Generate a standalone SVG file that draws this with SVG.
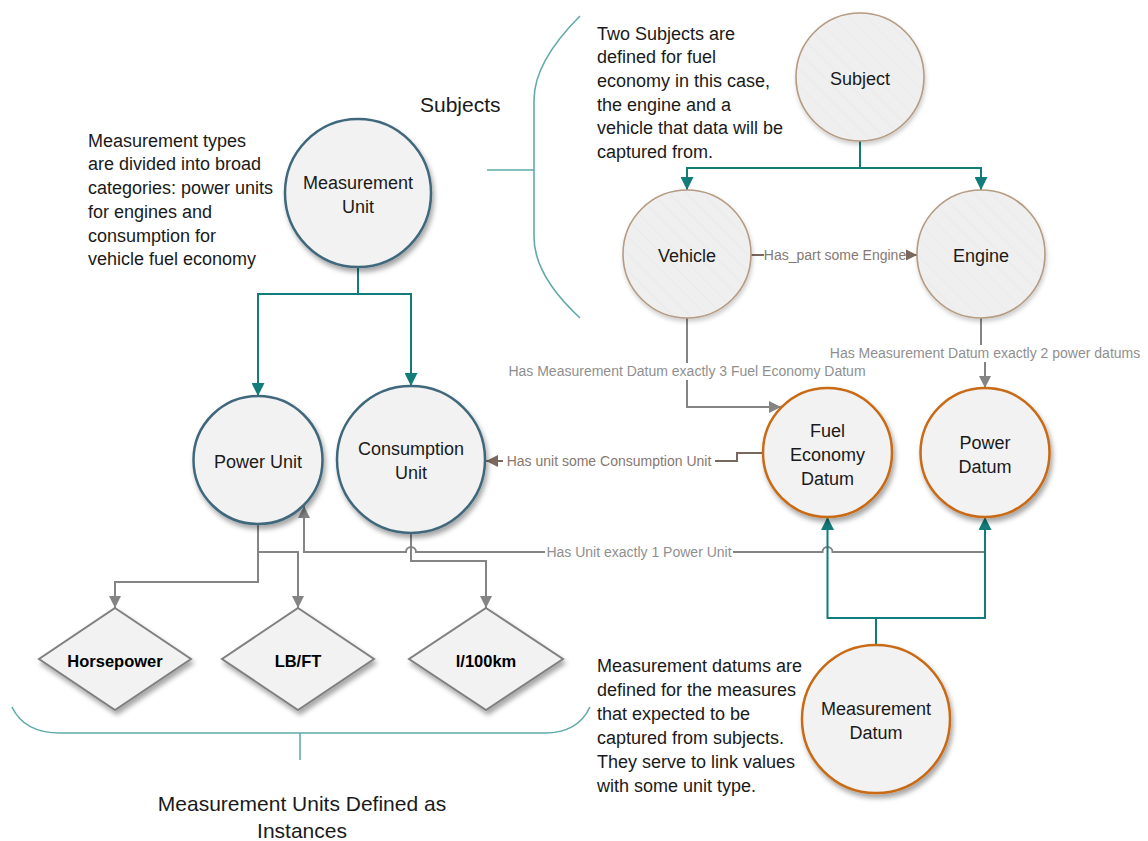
<svg xmlns="http://www.w3.org/2000/svg" width="1148" height="841" viewBox="0 0 1148 841">
<style>
text{font-family:"Liberation Sans",Arial,sans-serif;fill:#1a1a1a}
.desc{font-size:18px}
.title{font-size:21px}
.nl{font-size:18px;text-anchor:middle}
.dl{font-size:16.5px;font-weight:bold;text-anchor:middle;fill:#000}
.cl{font-size:14px;text-anchor:middle;fill:#8f8f8f}
.bl{font-size:14px;text-anchor:middle;fill:#877870}
.bg{fill:#fff}
.blue{fill:#f2f2f2;stroke:#41687c;stroke-width:2.5}
.orange{fill:#f2f2f2;stroke:#c86a14;stroke-width:2.5}
.tan{fill:url(#hatch);stroke:#b49b82;stroke-width:1.6}
.dia{fill:#f2f2f2;stroke:#808080;stroke-width:2}
.teal{fill:none;stroke:#127c7a;stroke-width:2}
.gray{fill:none;stroke:#848484;stroke-width:2}
.brown{fill:none;stroke:#7a675d;stroke-width:2}
.brace{fill:none;stroke:#5faaa9;stroke-width:1.6}
</style>
<defs>
<filter id="sh" x="-20%" y="-20%" width="150%" height="150%">
<feDropShadow dx="2" dy="4" stdDeviation="2.5" flood-color="#000" flood-opacity="0.35"/>
</filter>
<filter id="shl" x="-20%" y="-20%" width="150%" height="150%">
<feDropShadow dx="1" dy="3" stdDeviation="2" flood-color="#000" flood-opacity="0.2"/>
</filter>
<pattern id="hatch" patternUnits="userSpaceOnUse" width="12" height="12" patternTransform="rotate(-45)">
<rect width="12" height="12" fill="#efefef"/>
<line x1="0" y1="0" x2="0" y2="12" stroke="#e6e6e6" stroke-width="1"/>
</pattern>
<marker id="aT" viewBox="0 0 12 12" refX="12" refY="6" markerWidth="13" markerHeight="13" orient="auto" markerUnits="userSpaceOnUse"><path d="M0,0 L12,6 L0,12 z" fill="#127c7a"/></marker>
<marker id="aG" viewBox="0 0 12 12" refX="12" refY="6" markerWidth="12" markerHeight="12" orient="auto" markerUnits="userSpaceOnUse"><path d="M0,0 L12,6 L0,12 z" fill="#848484"/></marker>
<marker id="aB" viewBox="0 0 12 12" refX="12" refY="6" markerWidth="12" markerHeight="12" orient="auto" markerUnits="userSpaceOnUse"><path d="M0,0 L12,6 L0,12 z" fill="#7a675d"/></marker>
</defs>
<rect width="1148" height="841" fill="#fff"/>

<g id="braces">
<path class="brace" d="M580,16 C552,44 534,72 534,100 V237 C534,264 552,292 580,318"/>
<path class="brace" d="M487,170 H534"/>
<path class="brace" d="M12,707 C20,724 36,733 60,733 H545 C568,733 582,724 590,707"/>
<path class="brace" d="M300,733 V760"/>
</g>

<g id="connectors">
<path class="teal" d="M358,267 V294 H258 V396" marker-end="url(#aT)"/>
<path class="teal" d="M358,294 H411 V386" marker-end="url(#aT)"/>
<path class="teal" d="M860,141 V168 H687 V190" marker-end="url(#aT)"/>
<path class="teal" d="M860,168 H981 V190" marker-end="url(#aT)"/>
<path class="gray" d="M258,524 V582 H115 V608" marker-end="url(#aG)"/>
<path class="gray" d="M258,552 H298 V608" marker-end="url(#aG)"/>
<path class="gray" d="M411,533 V561 H486 V608" marker-end="url(#aG)"/>
<path class="gray" d="M985,517 V552 H832.5 a5,5 0 0 0 -10,0 H416 a5,5 0 0 0 -10,0 H304 V506" marker-end="url(#aG)"/>
<path class="gray" d="M687,318 V407 H781" marker-end="url(#aG)"/>
<path class="gray" d="M981,318 V352 H985 V388" marker-end="url(#aG)"/>
<path class="brown" d="M751,255 H917" marker-end="url(#aB)"/>
<path class="brown" d="M763,453 H737 V461 H486" marker-end="url(#aB)"/>
<path class="teal" d="M876,645 V618 H827.5 V517" marker-end="url(#aT)"/>
<path class="teal" d="M876,618 H985 V517" marker-end="url(#aT)"/>
<rect class="bg" x="764" y="247" width="142" height="16"/>
<text class="bl" x="835" y="260">Has_part some Engine</text>
<rect class="bg" x="505" y="363" width="364" height="17"/>
<text class="cl" x="687" y="376">Has Measurement Datum exactly 3 Fuel Economy Datum</text>
<rect class="bg" x="828" y="345" width="316" height="17"/>
<text class="cl" x="985" y="358">Has Measurement Datum exactly 2 power datums</text>
<rect class="bg" x="503" y="453" width="212" height="17"/>
<text class="bl" x="609" y="466">Has unit some Consumption Unit</text>
<rect class="bg" x="545" y="544" width="188" height="17"/>
<text class="cl" x="639" y="557">Has Unit exactly 1 Power Unit</text>
</g>

<g id="measurement-unit">
<ellipse class="blue" cx="358" cy="193" rx="73" ry="74" filter="url(#sh)"/>
<text class="nl" x="358" y="189">Measurement</text>
<text class="nl" x="358" y="212.5">Unit</text>
</g>
<g id="power-unit">
<ellipse class="blue" cx="258" cy="460" rx="64.5" ry="64" filter="url(#sh)"/>
<text class="nl" x="258" y="467.5">Power Unit</text>
</g>
<g id="consumption-unit">
<ellipse class="blue" cx="411" cy="459.5" rx="74" ry="73.5" filter="url(#sh)"/>
<text class="nl" x="411" y="455">Consumption</text>
<text class="nl" x="411" y="479">Unit</text>
</g>
<g id="subject">
<circle class="tan" cx="860" cy="77" r="64" filter="url(#shl)"/>
<text class="nl" x="860" y="84.5">Subject</text>
</g>
<g id="vehicle">
<circle class="tan" cx="687" cy="254" r="64" filter="url(#shl)"/>
<text class="nl" x="687" y="261.5">Vehicle</text>
</g>
<g id="engine">
<circle class="tan" cx="981" cy="254" r="64" filter="url(#shl)"/>
<text class="nl" x="981" y="261.5">Engine</text>
</g>
<g id="fuel-economy-datum">
<circle class="orange" cx="827.5" cy="452.5" r="64.5" filter="url(#sh)"/>
<text class="nl" x="827.5" y="436.5">Fuel</text>
<text class="nl" x="827.5" y="460.5">Economy</text>
<text class="nl" x="827.5" y="484.5">Datum</text>
</g>
<g id="power-datum">
<circle class="orange" cx="985" cy="452.5" r="64.5" filter="url(#sh)"/>
<text class="nl" x="985" y="449">Power</text>
<text class="nl" x="985" y="472.5">Datum</text>
</g>
<g id="measurement-datum">
<circle class="orange" cx="876" cy="719" r="74" filter="url(#sh)"/>
<text class="nl" x="876" y="715">Measurement</text>
<text class="nl" x="876" y="739">Datum</text>
</g>
<g id="horsepower">
<polygon class="dia" points="115,608 191,659 115,710 39,659" filter="url(#sh)"/>
<text class="dl" x="115" y="667">Horsepower</text>
</g>
<g id="lbft">
<polygon class="dia" points="298,608 374,659 298,710 222,659" filter="url(#sh)"/>
<text class="dl" x="298" y="667">LB/FT</text>
</g>
<g id="l100km">
<polygon class="dia" points="486,608 563,659 486,710 409,659" filter="url(#sh)"/>
<text class="dl" x="486" y="667">l/100km</text>
</g>

<g id="notes">
<text class="title" x="420" y="111.5">Subjects</text>
<text class="desc" x="88" y="146.5">Measurement types</text>
<text class="desc" x="88" y="170.3">are divided into broad</text>
<text class="desc" x="88" y="194">categories: power units</text>
<text class="desc" x="88" y="217.8">for engines and</text>
<text class="desc" x="88" y="241.5">consumption for</text>
<text class="desc" x="88" y="265.2">vehicle fuel economy</text>
<text class="desc" x="597" y="39.5">Two Subjects are</text>
<text class="desc" x="597" y="63.2">defined for fuel</text>
<text class="desc" x="597" y="86.9">economy in this case,</text>
<text class="desc" x="597" y="110.6">the engine and a</text>
<text class="desc" x="597" y="134.3">vehicle that data will be</text>
<text class="desc" x="597" y="158">captured from.</text>
<text class="desc" x="597" y="672">Measurement datums are</text>
<text class="desc" x="597" y="696">defined for the measures</text>
<text class="desc" x="597" y="720">that expected to be</text>
<text class="desc" x="597" y="744">captured from subjects.</text>
<text class="desc" x="597" y="768">They serve to link values</text>
<text class="desc" x="597" y="792">with some unit type.</text>
<text class="title" x="302" y="811" text-anchor="middle">Measurement Units Defined as</text>
<text class="title" x="302" y="838" text-anchor="middle">Instances</text>
</g>
</svg>
